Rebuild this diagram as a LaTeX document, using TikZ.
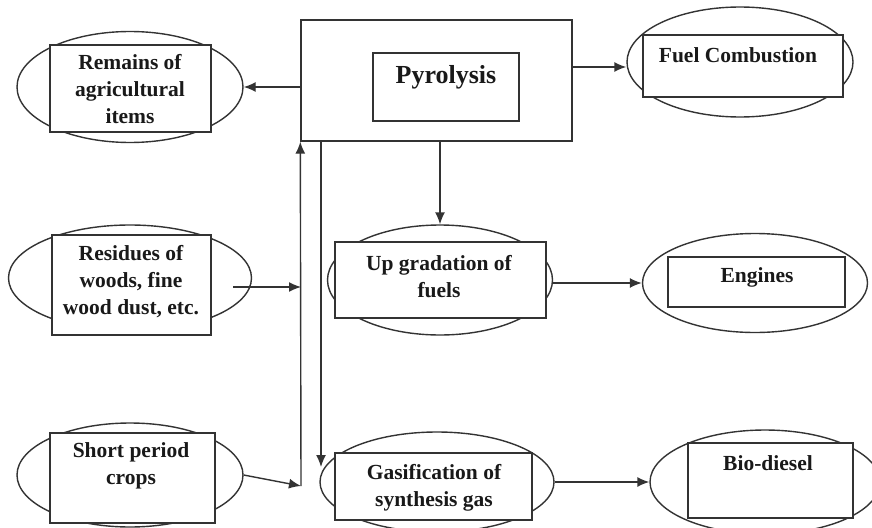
\documentclass[tikz,border=0pt]{standalone}
\usepackage{fontspec}
\setmainfont{Liberation Serif}
\usetikzlibrary{shapes.geometric,arrows.meta}
\definecolor{edgegray}{HTML}{333333}
\tikzset{
  blob/.style={draw=edgegray, ellipse, line width=1.4pt, inner sep=0pt},
  card/.style={draw=edgegray, fill=white, rectangle, line width=1.4pt, inner sep=0pt},
  lbl/.style={font=\bfseries\fontsize{21.5}{27}\selectfont, align=center, inner sep=0pt, text=black!90},
  arr/.style={draw=edgegray, line width=1.4pt, -{Latex[length=12pt,width=10pt]}},
}
\begin{document}
\begin{tikzpicture}[x=1pt, y=-1pt]
            \clip (0,0) rectangle (872,527);
            \fill[white] (0,0) rectangle (872,527);
            \node[blob, minimum width=226pt, minimum height=111pt] (remE) at (130,87) {};
            \node[card, minimum width=161pt, minimum height=87pt] (remR) at (130.5,88.5) {};
            \node[lbl] (remT) at (130,89) {Remains of\\agricultural\\items};
            \node[blob, minimum width=243pt, minimum height=106pt] (resE) at (130,278) {};
            \node[card, minimum width=159pt, minimum height=100pt] (resR) at (131.5,285) {};
            \node[lbl] (resT) at (131,282) {Residues of\\woods, fine\\wood dust, etc.};
            \node[blob, minimum width=226pt, minimum height=104pt] (shoE) at (130,475) {};
            \node[card, minimum width=165pt, minimum height=90pt] (shoR) at (132.5,478) {};
            \node[lbl] (shoT) at (131,466) {Short period\\crops};
            \node[card, minimum width=271pt, minimum height=121pt] (big) at (436.5,80.5) {};
            \node[card, minimum width=146pt, minimum height=68pt] (pyrR) at (446,87) {};
            \node[lbl, font=\bfseries\fontsize{26}{30}\selectfont] (pyrT) at (446,77) {Pyrolysis};
            \node[blob, minimum width=225pt, minimum height=110pt] (upE) at (440,280) {};
            \node[card, minimum width=211pt, minimum height=76pt] (upR) at (440.5,280) {};
            \node[lbl] (upT) at (439,276.5) {Up gradation of\\fuels};
            \node[blob, minimum width=234pt, minimum height=100pt] (gasE) at (437,482) {};
            \node[card, minimum width=197pt, minimum height=67pt] (gasR) at (433.5,486.5) {};
            \node[lbl] (gasT) at (434,487.5) {Gasification of\\synthesis gas};
            \node[blob, minimum width=226pt, minimum height=110pt] (fueE) at (740,62) {};
            \node[card, minimum width=200pt, minimum height=62pt] (fueR) at (743,66) {};
            \node[lbl] (fueT) at (738,55) {Fuel Combustion};
            \node[blob, minimum width=225pt, minimum height=99pt] (engE) at (755,283) {};
            \node[card, minimum width=177pt, minimum height=50pt] (engR) at (756.5,282) {};
            \node[lbl] (engT) at (757,277) {Engines};
            \node[blob, minimum width=230pt, minimum height=104pt] (bioE) at (765,482) {};
            \node[card, minimum width=165pt, minimum height=75pt] (bioR) at (770.5,480.5) {};
            \node[lbl] (bioT) at (768,463) {Bio-diesel};
            \coordinate (bus) at (301,486);
            \coordinate (drop) at (321,467);
            \draw[arr] (big.west |- remE.east) -- (remE.east);
            \draw[arr] ([yshift=-5pt]big.east |- fueE.west) -- ([yshift=-5pt]fueE.west);
            \draw[arr] (upE.north |- big.south) -- (upE.north);
            \draw[arr] (bus) -- (big.south west);
            \draw[arr] (drop |- big.south) -- (drop);
            \draw[arr] ([xshift=-19pt,yshift=-9pt]resE.east) -- ([yshift=-9pt]resE.east -| bus);
            \draw[arr] (shoE.east) -- (bus);
            \draw[arr] (upE.east |- engE.west) -- (engE.west);
            \draw[arr] (gasE.east) -- (bioE.west);
        \end{tikzpicture}
\end{document}
